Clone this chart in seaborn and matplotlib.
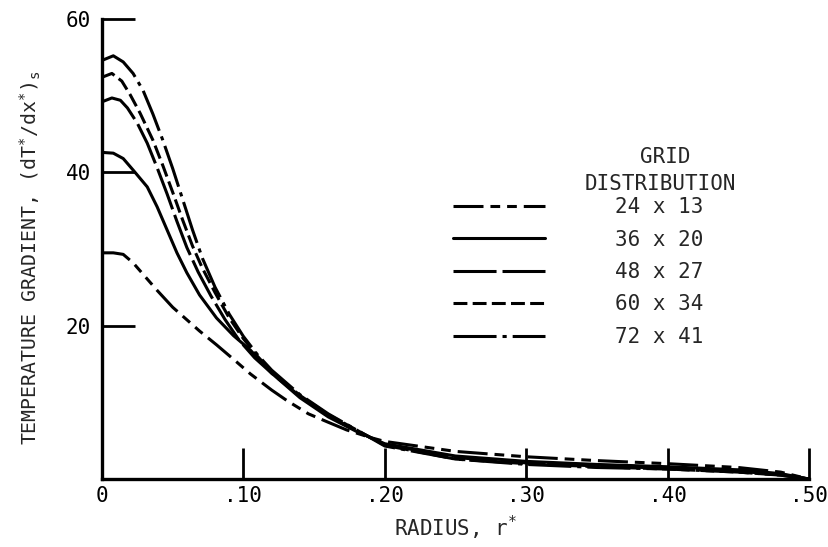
import matplotlib
matplotlib.use("Agg")
import matplotlib.pyplot as plt
import seaborn as sns

# radius r* and temperature gradient (dT*/dx*)s
r_24x13 = [0.0, 0.008, 0.015, 0.022, 0.039, 0.050, 0.069, 0.081, 0.095, 0.105, 0.120, 0.131,
           0.146, 0.160, 0.173, 0.190, 0.200, 0.250, 0.300, 0.350, 0.400, 0.450, 0.480, 0.500]
v_24x13 = [29.5, 29.5, 29.3, 28.2, 24.6, 22.4, 19.3, 17.5, 15.3, 13.7, 11.6, 10.2,
           8.5, 7.4, 6.4, 5.4, 4.9, 3.6, 2.9, 2.4, 2.0, 1.5, 0.9, 0.0]

r_36x20 = [0.0, 0.008, 0.015, 0.022, 0.032, 0.039, 0.046, 0.053, 0.060, 0.069, 0.081, 0.093,
           0.105, 0.120, 0.140, 0.160, 0.180, 0.200, 0.250, 0.300, 0.350, 0.400, 0.450, 0.480, 0.500]
v_36x20 = [42.6, 42.5, 41.8, 40.3, 38.1, 35.5, 32.5, 29.5, 26.9, 24.0, 21.0, 18.7,
           16.8, 13.8, 10.6, 8.1, 6.2, 4.6, 3.0, 2.3, 1.9, 1.6, 1.2, 0.7, 0.0]

r_48x27 = [0.0, 0.007, 0.013, 0.018, 0.025, 0.032, 0.039, 0.046, 0.053, 0.060, 0.068, 0.077,
           0.087, 0.097, 0.108, 0.120, 0.140, 0.160, 0.180, 0.200, 0.250, 0.300, 0.350, 0.400,
           0.450, 0.480, 0.500]
v_48x27 = [49.2, 49.7, 49.4, 48.4, 46.4, 43.8, 40.6, 37.2, 33.6, 30.2, 27.0, 23.9,
           20.8, 18.1, 15.8, 13.8, 10.8, 8.3, 6.3, 4.5, 2.8, 2.1, 1.7, 1.4,
           1.0, 0.6, 0.0]

r_60x34 = [0.0, 0.007, 0.014, 0.020, 0.027, 0.036, 0.043, 0.050, 0.057, 0.064, 0.071, 0.080,
           0.090, 0.100, 0.110, 0.120, 0.140, 0.160, 0.180, 0.200, 0.250, 0.300, 0.350, 0.400,
           0.450, 0.480, 0.500]
v_60x34 = [52.4, 52.9, 51.9, 50.1, 47.7, 44.2, 40.9, 37.4, 33.8, 30.4, 27.5, 24.3,
           21.0, 18.3, 16.0, 14.0, 10.9, 8.4, 6.4, 4.4, 2.6, 2.0, 1.6, 1.3,
           0.9, 0.5, 0.0]

r_72x41 = [0.0, 0.008, 0.015, 0.022, 0.029, 0.036, 0.043, 0.050, 0.057, 0.064, 0.071, 0.080,
           0.090, 0.100, 0.110, 0.120, 0.140, 0.160, 0.180, 0.200, 0.250, 0.300, 0.350, 0.400,
           0.450, 0.480, 0.500]
v_72x41 = [54.6, 55.2, 54.4, 52.9, 50.7, 47.6, 44.2, 40.5, 36.5, 32.5, 28.8, 25.0,
           21.5, 18.6, 16.2, 14.2, 11.0, 8.5, 6.4, 4.3, 2.6, 1.9, 1.5, 1.3,
           0.9, 0.5, 0.0]

grid_labels = ["24 x 13", "36 x 20", "48 x 27", "60 x 34", "72 x 41"]
x_ticks = [0.0, 0.1, 0.2, 0.3, 0.4, 0.5]
x_tick_labels = ["0", ".10", ".20", ".30", ".40", ".50"]
y_ticks = [20, 40, 60]
y_tick_labels = ["20", "40", "60"]

# dash patterns in points, as drawn in the legend
line_styles = [
    (0, (21.6, 5.0, 7.0, 5.0, 7.0, 5.0)),
    "-",
    (0, (31.0, 4.3)),
    (0, (10.0, 3.8)),
    (0, (31.0, 4.3, 3.0, 4.3)),
]

sns.set_style("ticks")
plt.rcParams["font.family"] = ["DejaVu Sans Mono", "DejaVu Sans"]
plt.rcParams["mathtext.fontset"] = "custom"
plt.rcParams["mathtext.rm"] = "DejaVu Sans Mono"
plt.rcParams["mathtext.it"] = "DejaVu Sans Mono"
plt.rcParams["lines.scale_dashes"] = False

fig = plt.figure(figsize=(8.29, 5.47), dpi=100)
ax = fig.add_axes([102 / 829, 68 / 547, 707 / 829, 460 / 547])

all_r = [r_24x13, r_36x20, r_48x27, r_60x34, r_72x41]
all_v = [v_24x13, v_36x20, v_48x27, v_60x34, v_72x41]
for r, v, name, ls in zip(all_r, all_v, grid_labels, line_styles):
    sns.lineplot(x=r, y=v, ax=ax, color="black", lw=2.2, linestyle=ls,
                 label=name, legend=False, sort=False)

ax.set_xlim(0, 0.5)
ax.set_ylim(0, 60)
ax.set_xticks(x_ticks)
ax.set_xticklabels(x_tick_labels)
ax.set_yticks(y_ticks)
ax.set_yticklabels(y_tick_labels)
ax.tick_params(axis="both", direction="in", width=2, colors="black", labelsize=15)
ax.tick_params(axis="x", pad=5, length=22)
ax.tick_params(axis="y", pad=8, length=24)

for side in ["top", "right"]:
    ax.spines[side].set_visible(False)
for side in ["left", "bottom"]:
    ax.spines[side].set_linewidth(2.4)
    ax.spines[side].set_color("black")

ax.set_xlabel(r"RADIUS, r$^{*}$", fontsize=15, labelpad=6)
ax.set_ylabel(r"TEMPERATURE GRADIENT, (dT$^{*}$/dx$^{*}$)$_{\mathrm{s}}$", fontsize=14.3)
ax.yaxis.set_label_coords(-0.084, 0.48)

handles, labels = ax.get_legend_handles_labels()
ax.legend(handles, labels, loc="upper left", bbox_to_anchor=(453 / 829, 1 - 197 / 547),
          bbox_transform=fig.transFigure, frameon=False, fontsize=15,
          handlelength=4.4, handletextpad=3.4, labelspacing=0.6,
          borderpad=0, borderaxespad=0)
fig.text(665 / 829, 1 - 157 / 547, "GRID", ha="center", va="center", fontsize=15)
fig.text(660 / 829, 1 - 184 / 547, "DISTRIBUTION", ha="center", va="center", fontsize=15)

fig.savefig("out.png", dpi=100, facecolor="white")
